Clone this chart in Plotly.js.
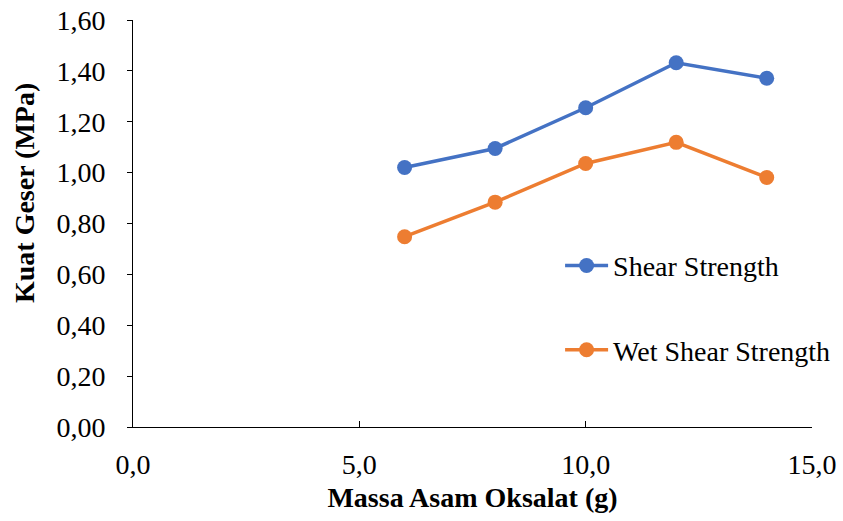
<!DOCTYPE html>
<html>
<head>
<meta charset="utf-8">
<script src="https://cdn.plot.ly/plotly-3.0.1.min.js"></script>
<style>
  html, body { margin: 0; padding: 0; background: #fff; }
  #chart { width: 843px; height: 521px; }
</style>
</head>
<body>
<div id="chart"></div>
<script>
// Oxalic acid mass (g) and measured shear strength (MPa)
const massaAsamOksalat = [6, 8, 10, 12, 14];
const shearStrength = [1.02, 1.095, 1.255, 1.432, 1.371];
const wetShearStrength = [0.748, 0.884, 1.036, 1.119, 0.981];

const seriesNames = ['Shear Strength', 'Wet Shear Strength'];
const xTitle = 'Massa Asam Oksalat (g)';
const yTitle = 'Kuat Geser (MPa)';

const FONT = 'Liberation Serif';

const traces = [
  {
    x: massaAsamOksalat, y: shearStrength, name: seriesNames[0],
    type: 'scatter', mode: 'lines+markers',
    line: { color: '#4472C4', width: 3.5 },
    marker: { color: '#4472C4', size: 15 },
    legend: 'legend'
  },
  {
    x: massaAsamOksalat, y: wetShearStrength, name: seriesNames[1],
    type: 'scatter', mode: 'lines+markers',
    line: { color: '#ED7D31', width: 3.5 },
    marker: { color: '#ED7D31', size: 15 },
    legend: 'legend2'
  }
];

// Two single-entry legends so each entry can sit at its own height
const legendBase = {
  xanchor: 'left', yanchor: 'middle',
  bgcolor: 'rgba(0,0,0,0)', borderwidth: 0,
  itemwidth: 43,
  font: { family: FONT, size: 28, color: '#000' }
};

const layout = {
  width: 843, height: 521,
  margin: { l: 133, r: 31, t: 20, b: 94, pad: 0, autoexpand: false },
  paper_bgcolor: '#fff', plot_bgcolor: '#fff',
  separators: ',.',
  font: { family: FONT, size: 28, color: '#000' },
  showlegend: true,
  xaxis: {
    range: [0, 15], dtick: 5, tick0: 0, tickformat: '.1f',
    showgrid: false, zeroline: false,
    showline: true, linecolor: '#000', linewidth: 1,
    ticks: 'inside', ticklen: 6, tickcolor: '#000', tickwidth: 1,
    ticklabelstandoff: 12,
    tickfont: { family: FONT, size: 28, color: '#000' },
    title: { text: '<b>' + xTitle + '</b>', font: { family: FONT, size: 28, color: '#000' }, standoff: 8 }
  },
  yaxis: {
    range: [0, 1.6], dtick: 0.2, tick0: 0, tickformat: '.2f',
    showgrid: false, zeroline: false,
    showline: true, linecolor: '#000', linewidth: 1,
    ticks: 'outside', ticklen: 5, tickcolor: '#000', tickwidth: 1,
    ticklabelstandoff: 16,
    tickfont: { family: FONT, size: 28, color: '#000' }
  },
  annotations: [
    {
      text: '<b>' + yTitle + '</b>',
      xref: 'paper', yref: 'paper',
      x: -0.159, y: 0.575, xanchor: 'center', yanchor: 'middle',
      textangle: -90, showarrow: false,
      font: { family: FONT, size: 28, color: '#000' }
    }
  ],
  legend: Object.assign({}, legendBase, { x: 0.629, y: 0.396 }),
  legend2: Object.assign({}, legendBase, { x: 0.629, y: 0.189 })
};

Plotly.newPlot('chart', traces, layout, { displayModeBar: false, staticPlot: true });
</script>
</body>
</html>
